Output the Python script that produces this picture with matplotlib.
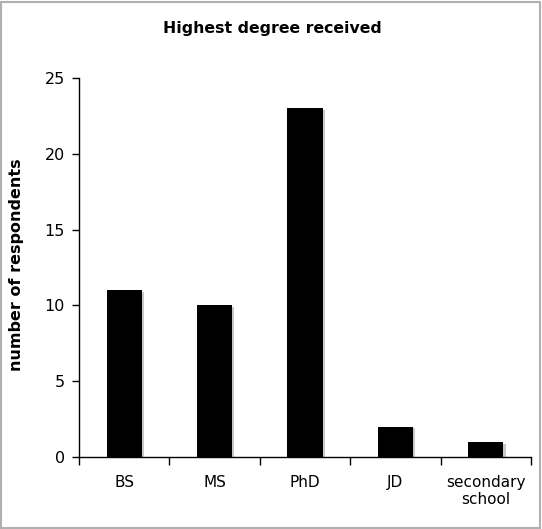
import matplotlib
matplotlib.use("Agg")
import matplotlib.pyplot as plt
from matplotlib.patches import Rectangle

categories = ["BS", "MS", "PhD", "JD", "secondary\nschool"]
counts = [11, 10, 23, 2, 1]
yticks = [0, 5, 10, 15, 20, 25]

plt.rcParams['font.family'] = ['DejaVu Sans']

W, H = 542, 529
fig = plt.figure(figsize=(W / 100, H / 100), dpi=100)
ax = fig.add_axes([79 / W, 1 - 457 / H, (531 - 79) / W, (457 - 78) / H])

x = list(range(len(categories)))
bw = 0.39
# shadows
ax.bar([xi + 0.025 for xi in x], counts, width=bw, bottom=[-0.12] * len(x),
       color="#c8c8c8", zorder=2)
ax.bar(x, counts, width=bw, color="black", zorder=3)

ax.set_xlim(-0.5, len(categories) - 0.5)
ax.set_ylim(0, 25)
ax.set_yticks(yticks)
ax.set_yticklabels([str(t) for t in yticks], fontsize=11.5)
ax.set_xticks(x)
ax.set_xticklabels(categories, fontsize=11)
ax.tick_params(axis='x', length=0, pad=13)
ax.set_xticks([i + 0.5 for i in range(-1, len(categories))], minor=True)
ax.tick_params(axis='x', which='minor', length=6, width=1, direction='out')
ax.tick_params(axis='y', length=5, width=1, direction='out', pad=5)
for s in ["top", "right"]:
    ax.spines[s].set_visible(False)
ax.spines["left"].set_linewidth(1.0)
ax.spines["bottom"].set_linewidth(1.0)

fig.text(17 / W, 1 - 265 / H, "number of respondents", rotation=90, ha='center', va='center',
         fontsize=11.5, fontweight='bold')

fig.text(272 / W, 1 - 28 / H, "Highest degree received", ha='center', va='center',
         fontsize=11.3, fontweight='bold')

# figure border
fig.patches.append(Rectangle((1 / W, 1 / H), 1 - 3 / W, 1 - 3 / H, transform=fig.transFigure,
                             fill=False, edgecolor="#b0b0b0", linewidth=1.5))

fig.savefig("out.png", dpi=100)
